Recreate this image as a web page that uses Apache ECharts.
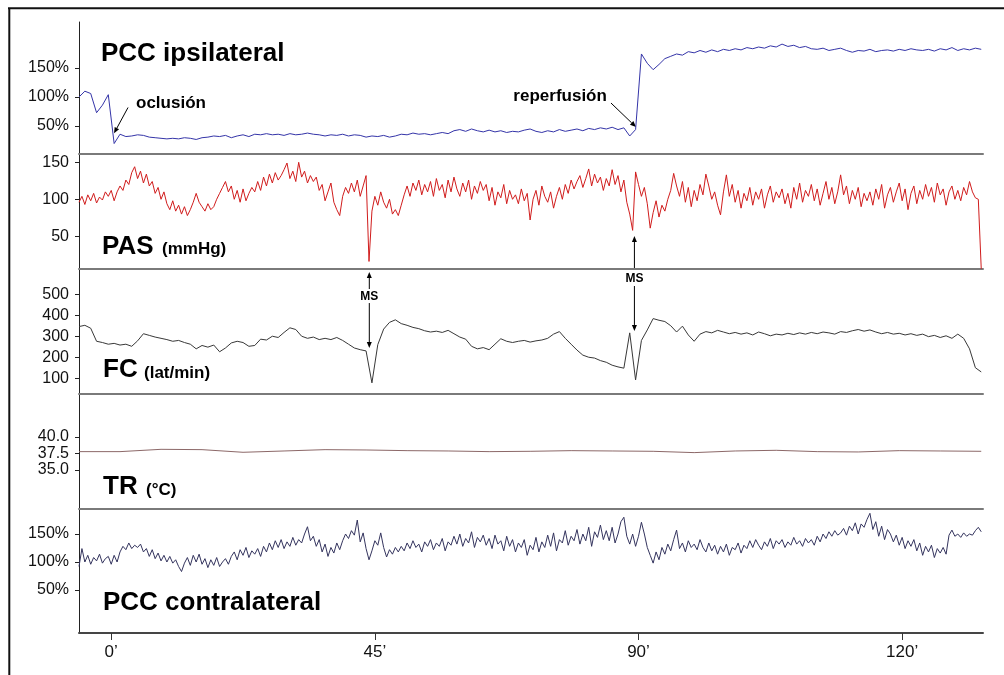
<!DOCTYPE html>
<html><head><meta charset="utf-8">
<script src="https://cdn.jsdelivr.net/npm/echarts@6/dist/echarts.min.js"></script>
<style>html,body{margin:0;padding:0;background:#fff}#c{width:1004px;height:675px}</style>
</head><body><div id="c"></div>
<script>
// ---- time axis ----
const T_START = -5.5;        // minutes, first sample
const STEP_FINE = 0.5;       // PAS and PCC contralateral sampling (min)
const STEP_MID = 1;          // PCC ipsilateral and FC sampling (min)
const STEP_TR = 7;           // TR sampling (min)
const X_MIN = -5.5, X_MAX = 148.8;
const xTickValues = [0, 45, 90, 135];
const xTickLabels = ['0’', '45’', '90’', '120’'];

// ---- panel titles ----
const titles = ['PCC ipsilateral', 'PAS', 'FC', 'TR', 'PCC contralateral'];
const units = ['', '(mmHg)', '(lat/min)', '(°C)', ''];

// ---- y ticks ----
const ipsiTicks = [50, 100, 150];      const ipsiTickLabels = ['50%', '100%', '150%'];
const pasTicks = [50, 100, 150];       const pasTickLabels = ['50', '100', '150'];
const fcTicks = [100, 200, 300, 400, 500]; const fcTickLabels = ['100', '200', '300', '400', '500'];
const trTicks = [35, 37.5, 40];        const trTickLabels = ['35.0', '37.5', '40.0'];
const contraTicks = [50, 100, 150];    const contraTickLabels = ['50%', '100%', '150%'];

// ---- series values ----
const pccIpsi = [100,110,106,73,86,104,20,36,32,33,
35,34,31,30,29,28,29,28,30,29,
27,30,31,33,32,34,30,33,35,32,
36,35,37,35,36,34,37,35,36,38,
36,35,33,35,34,36,33,35,34,31,
33,32,34,31,33,36,35,38,36,37,
35,37,39,37,42,44,41,45,42,40,
43,40,42,39,41,40,43,45,41,39,
42,40,44,41,43,45,42,46,44,47,
45,48,44,47,33,44,174,158,147,156,
166,170,174,172,178,176,180,177,181,178,
182,180,183,181,185,183,186,184,188,186,
191,187,189,185,187,183,182,184,180,182,
184,180,177,180,179,182,178,180,181,179,
182,180,183,181,180,182,179,183,181,185,
180,183,181,184,182];

const pas = [96,104,93,106,98,108,95,103,99,110,
104,112,98,110,118,112,126,120,136,144,
128,138,122,134,118,124,108,116,100,110,
94,86,98,84,92,80,90,78,86,96,
108,96,90,84,94,86,90,100,108,116,
124,110,118,100,112,96,114,98,108,116,
110,124,112,130,118,134,122,136,126,132,
140,149,128,138,124,150,130,138,122,132,
124,130,112,120,98,110,122,96,86,78,
104,116,108,122,110,126,104,118,132,16,
84,104,92,110,96,88,100,80,86,78,
92,106,118,104,122,112,126,106,120,110,
124,104,128,112,120,102,126,110,130,114,
104,122,110,126,100,118,108,124,112,120,
98,116,92,110,102,120,94,112,100,106,
94,114,98,108,72,100,112,92,118,104,
96,110,88,104,116,100,120,108,126,114,
124,132,116,128,141,118,134,122,130,112,
128,118,140,120,132,110,126,96,80,58,
137,120,104,116,94,61,82,98,76,92,
84,100,112,135,118,104,124,96,116,90,
112,98,120,106,134,118,100,110,92,79,
110,133,104,120,96,112,88,108,98,116,
92,110,100,114,88,106,118,96,110,102,
114,94,108,88,116,100,122,96,112,104,
120,98,114,92,108,124,100,116,94,110,
133,106,118,94,112,100,116,90,108,98,
110,92,114,100,120,88,106,116,96,110,
122,98,114,86,108,118,94,112,100,120,
104,116,96,122,106,114,92,110,118,100,
112,98,116,106,124,110,102,100,6];

const fc = [346,352,338,276,270,262,266,258,262,252,
278,312,304,296,290,284,276,280,270,262,
240,256,248,258,226,244,268,276,270,252,
256,286,282,300,294,318,340,332,300,290,
296,284,290,284,294,280,262,244,236,230,
78,260,334,366,378,360,352,342,336,326,
320,324,318,328,312,296,286,252,240,246,
236,262,288,276,270,276,280,272,278,282,
290,310,322,290,262,234,210,200,196,184,
176,162,154,148,316,92,280,330,384,376,
370,350,320,348,306,276,310,322,316,328,
320,312,318,310,316,306,320,312,302,310,
306,314,308,316,310,318,312,320,316,310,
322,318,326,332,324,330,320,312,318,310,
314,306,312,304,310,298,304,294,302,290,
310,290,240,150,130];

const tr = [37.75,37.75,38.1,38.05,37.65,37.85,38.05,38.0,37.9,37.85,37.75,37.8,
37.9,37.85,37.8,37.6,37.85,37.95,37.75,37.7,37.9,37.85,37.8];

const pccContra = [92,124,100,112,96,108,102,114,98,106,
110,96,112,100,118,128,122,134,124,130,
126,132,118,124,110,122,106,116,102,112,
100,110,98,104,92,83,98,108,94,112,
100,114,96,106,90,104,94,108,92,100,
106,96,110,118,104,122,112,126,108,120,
114,124,110,128,118,134,122,138,126,140,
124,136,128,144,130,140,134,150,163,138,
146,128,140,118,132,110,126,116,134,122,
138,150,142,156,148,175,136,152,124,104,
120,138,130,152,126,109,122,114,126,118,
128,120,134,124,138,126,132,118,136,128,
140,122,134,128,142,120,136,130,146,132,
150,128,142,134,154,126,144,136,148,130,
142,124,148,132,138,120,146,128,140,118,
134,126,140,112,130,122,144,118,136,126,
148,128,152,120,140,134,156,130,146,138,
158,132,150,138,162,128,154,144,166,140,
156,138,162,134,150,172,180,146,132,150,
128,146,171,150,126,112,98,118,104,126,
114,132,120,140,157,124,134,118,138,126,
132,122,140,126,118,134,120,130,114,128,
118,132,112,126,122,134,116,130,124,138,
126,140,130,122,136,128,142,124,138,132,
140,126,136,130,144,132,138,128,142,134,
140,130,146,136,150,142,154,146,156,148,
152,160,148,164,156,170,150,168,162,176,
187,158,172,146,164,140,158,150,136,148,
130,144,124,138,128,140,120,134,112,128,
118,130,108,124,116,126,114,148,157,146,
150,144,152,146,150,148,156,162,154];

// ---- annotations (data coordinates of the panel they belong to) ----
const annotations = [
  {grid: 0, text: 'oclusión', at: [4.23, 89.7], align: 'left', size: 17,
   arrows: [[[2.87, 82], [0.48, 37.5]]]},
  {grid: 0, text: 'reperfusión', at: [84.6, 101.7], align: 'right', size: 17,
   arrows: [[[85.3, 89.7], [89.57, 48.4]]]},
  {grid: 2, text: 'MS', at: [44.05, 488], align: 'center', size: 12,
   arrows: [[[44.05, 524.8], [44.05, 605.7]], [[44.05, 458], [44.05, 244]]]},
  {grid: 2, text: 'MS', at: [89.3, 575.7], align: 'center', size: 12,
   arrows: [[[89.3, 615.2], [89.3, 777]], [[89.3, 539], [89.3, 325]]]}
];

const FONT = '"Liberation Sans", Arial, Helvetica, sans-serif';
const panels = [
  {top: 22, height: 132, min: 2, max: 229, ticks: ipsiTicks, labels: ipsiTickLabels, data: pccIpsi, step: STEP_MID, color: '#3434a8'},
  {top: 154, height: 115, min: 5.8, max: 161.2, ticks: pasTicks, labels: pasTickLabels, data: pas, step: STEP_FINE, color: '#d01c1c'},
  {top: 269, height: 125, min: 25, max: 620, ticks: fcTicks, labels: fcTickLabels, data: fc, step: STEP_MID, color: '#383838'},
  {top: 394, height: 115, min: 29.06, max: 46.48, ticks: trTicks, labels: trTickLabels, data: tr, step: STEP_TR, color: '#8c6868'},
  {top: 509, height: 124, min: -26.8, max: 194.7, ticks: contraTicks, labels: contraTickLabels, data: pccContra, step: STEP_FINE, color: '#34345e'}
];

const option = {
  animation: false,
  backgroundColor: '#fff',
  grid: panels.map(p => ({left: 79, right: 21, top: p.top, height: p.height})),
  xAxis: panels.map((p, i) => ({
    type: 'value', gridIndex: i, min: X_MIN, max: X_MAX,
    axisLine: {show: true, onZero: false, lineStyle: {color: i < 4 ? '#7a7a7a' : '#454545', width: 2}},
    axisTick: {show: i === 4, customValues: xTickValues, length: 7, lineStyle: {color: '#333', width: 1}},
    axisLabel: {show: i === 4, customValues: xTickValues, margin: 11, fontSize: 17, color: '#111', fontFamily: FONT,
      formatter: v => xTickLabels[xTickValues.indexOf(v)]},
    splitLine: {show: false}
  })),
  yAxis: panels.map((p, i) => ({
    type: 'value', gridIndex: i, min: p.min, max: p.max,
    axisLine: {show: true, onZero: false, lineStyle: {color: '#222', width: 1}},
    axisTick: {show: true, customValues: p.ticks, length: 4, lineStyle: {color: '#222', width: 1}},
    axisLabel: {customValues: p.ticks, margin: 10, fontSize: 16, color: '#111', fontFamily: FONT,
      formatter: v => p.labels[p.ticks.indexOf(v)]},
    splitLine: {show: false}
  })),
  series: panels.map((p, i) => ({
    type: 'line', xAxisIndex: i, yAxisIndex: i, showSymbol: false, symbol: 'none',
    data: p.data.map((v, k) => [T_START + k * p.step, v]),
    lineStyle: {width: 1, color: p.color}, clip: true, silent: true
  }))
};

const chart = echarts.init(document.getElementById('c'));
chart.setOption(option);

const G = [];
// outer frame
G.push({type: 'line', shape: {x1: 8, y1: 8.3, x2: 1004, y2: 8.3}, style: {stroke: '#111', lineWidth: 2}});
G.push({type: 'line', shape: {x1: 9.3, y1: 8, x2: 9.3, y2: 675}, style: {stroke: '#111', lineWidth: 2}});
// panel titles
const titlePos = [[101, 53.5], [102, 246.5], [103, 370], [103, 486.5], [103, 602.5]];
const unitPos = [null, [162, 249.5], [144, 373], [146, 490], null];
titles.forEach((t, i) => {
  G.push({type: 'text', x: titlePos[i][0], y: titlePos[i][1],
    style: {text: t, font: 'bold 26px ' + FONT, fill: '#000', align: 'left', verticalAlign: 'middle'}});
  if (units[i]) G.push({type: 'text', x: unitPos[i][0], y: unitPos[i][1],
    style: {text: units[i], font: 'bold 17px ' + FONT, fill: '#000', align: 'left', verticalAlign: 'middle'}});
});
// annotations
function arrow(p0, p1) {
  const dx = p1[0] - p0[0], dy = p1[1] - p0[1];
  const L = Math.hypot(dx, dy), ux = dx / L, uy = dy / L;
  const hl = 6, hw = 2.5;
  const bx = p1[0] - ux * hl, by = p1[1] - uy * hl;
  return [
    {type: 'line', shape: {x1: p0[0], y1: p0[1], x2: bx, y2: by}, style: {stroke: '#000', lineWidth: 1}},
    {type: 'polygon', shape: {points: [[p1[0], p1[1]], [bx - uy * hw, by + ux * hw], [bx + uy * hw, by - ux * hw]]}, style: {fill: '#000'}}
  ];
}
annotations.forEach(a => {
  const pos = chart.convertToPixel({gridIndex: a.grid}, a.at);
  G.push({type: 'text', x: pos[0], y: pos[1],
    style: {text: a.text, font: 'bold ' + a.size + 'px ' + FONT, fill: '#000', align: a.align, verticalAlign: 'middle'}});
  a.arrows.forEach(ar => {
    const p0 = chart.convertToPixel({gridIndex: a.grid}, ar[0]);
    const p1 = chart.convertToPixel({gridIndex: a.grid}, ar[1]);
    arrow(p0, p1).forEach(e => G.push(e));
  });
});
chart.setOption({graphic: {elements: G}});
</script>
</body></html>
